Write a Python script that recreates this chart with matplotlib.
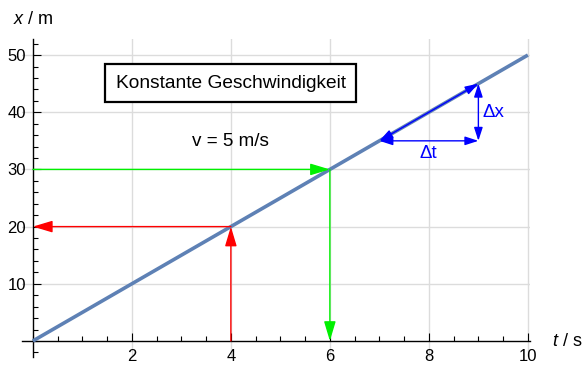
import matplotlib.pyplot as plt
from matplotlib.ticker import MultipleLocator

plt.rcParams['font.family'] = ['Liberation Sans', 'DejaVu Sans']
plt.rcParams['mathtext.fontset'] = 'custom'
plt.rcParams['mathtext.it'] = 'Liberation Sans:italic'
plt.rcParams['mathtext.rm'] = 'Liberation Sans'

# Weg-Zeit-Gerade bei konstanter Geschwindigkeit
t_line = [0, 10]
x_line = [0, 50]

# Ablesebeispiele: t -> x (rot) und x -> t (grün)
t_red, x_red = 4, 20
t_green, x_green = 6, 30

# Steigungsdreieck
t_tri = [7, 9]
x_tri = [35, 45]

fig = plt.figure(figsize=(5.83, 3.65), dpi=100)
ax = fig.add_axes([0.0377, 0.022, 0.872, 0.871])

ax.set_xlim(-0.22, 10.05)
ax.set_ylim(-2.8, 52.8)

ax.spines['left'].set_position(('data', 0))
ax.spines['bottom'].set_position(('data', 0))
ax.spines['right'].set_visible(False)
ax.spines['top'].set_visible(False)
for s in ('left', 'bottom'):
    ax.spines[s].set_linewidth(1.0)
    ax.spines[s].set_color('black')

ax.xaxis.set_minor_locator(MultipleLocator(0.5))
ax.yaxis.set_minor_locator(MultipleLocator(2))
ax.set_xticks([2, 4, 6, 8, 10])
ax.set_yticks([10, 20, 30, 40, 50])
ax.tick_params(axis='both', which='major', direction='in', length=6, width=0.8, labelsize=12)
ax.tick_params(axis='both', which='minor', direction='in', length=3.7, width=0.8)
ax.tick_params(axis='x', which='major', pad=6)
ax.tick_params(axis='y', which='major', pad=5)

ax.grid(True, which='major', color='#dcdcdc', lw=1.0, zorder=0)
ax.set_axisbelow(True)

ax.plot(t_line, x_line, color='#5E81B5', lw=2.6, zorder=3, solid_capstyle='butt')

def arrow(p_from, p_to, color, style='-|>', hl=0.6, hw=0.18):
    ax.annotate('', xy=p_to, xytext=p_from,
                arrowprops=dict(arrowstyle=f'{style},head_length={hl},head_width={hw}',
                                color=color, lw=1.0, mutation_scale=20,
                                shrinkA=0, shrinkB=0),
                zorder=4)

# rot: von t auf der Achse zur Geraden, dann zur x-Achse
arrow((t_red, 0), (t_red, x_red), '#FF0000')
arrow((t_red, x_red), (0, x_red), '#FF0000')
# grün: von x auf der Achse zur Geraden, dann zur t-Achse
arrow((0, x_green), (t_green, x_green), '#00F000')
arrow((t_green, x_green), (t_green, 0), '#00F000')

# blaues Steigungsdreieck
for p0, p1 in [((t_tri[0], x_tri[0]), (t_tri[1], x_tri[0])),
               ((t_tri[1], x_tri[0]), (t_tri[1], x_tri[1])),
               ((t_tri[0], x_tri[0]), (t_tri[1], x_tri[1]))]:
    arrow(p0, p1, '#0000FF', '<|-|>', hl=0.4, hw=0.13)
ax.text(9.3, 40, 'Δx', color='#0000FF', fontsize=13.5, ha='center', va='center')
ax.text(7.98, 32.8, 'Δt', color='#0000FF', fontsize=13.5, ha='center', va='center')

ax.text(4.0, 45.1, 'Konstante Geschwindigkeit', fontsize=13.8, ha='center', va='center',
        bbox=dict(boxstyle='square,pad=0.55', fc='white', ec='black', lw=1.6))
ax.text(4.0, 34.8, 'v = 5 m/s', fontsize=13.6, ha='center', va='center')

fig.text(33 / 583, 1 - 19 / 365, r'$x$ / m', fontsize=13, ha='center', va='center')
fig.text(567 / 583, 1 - 341 / 365, r'$t$ / s', fontsize=13, ha='center', va='center')

plt.savefig('out.png', dpi=100)
